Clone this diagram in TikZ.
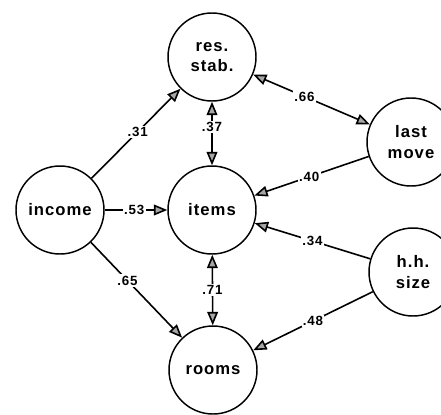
\documentclass[tikz,border=0pt]{standalone}
\usepackage{fontspec}
\setsansfont{Liberation Sans}[LetterSpace=6]
\usepackage{tikz}
\usetikzlibrary{arrows.meta}

\begin{document}
\begin{tikzpicture}[x=0.75pt,y=0.75pt,yscale=-1,xscale=1,
  var/.style={draw, circle, line width=1.1pt, minimum size=88pt*0.75, inner sep=0pt, align=center,
    font=\sffamily\bfseries\fontsize{12.5}{15.5}\selectfont},
  lbl/.style={fill=white, inner sep=1pt, font=\sffamily\bfseries\fontsize{10}{11}\selectfont},
  arr/.style={line width=1.2pt, -{Triangle[length=10pt,width=8pt,fill=gray!70]}},
  darr/.style={line width=1.2pt, {Triangle[length=10pt,width=8pt,fill=gray!70]}-{Triangle[length=10pt,width=8pt,fill=gray!70]}}]
%set diagram frame, 441 x 414
\useasboundingbox (0,0) rectangle (441,414);
\clip (0,0) rectangle (441,414);

%Shape: Circle
\node [var] (res) at (212,57) {res.\\stab.};
%Shape: Circle
\node [var] (income) at (60,210) {income};
%Shape: Circle
\node [var] (items) at (212,210) {items};
%Shape: Circle
\node [var] (rooms) at (213,370) {rooms};
%Shape: Circle
\node [var] (last) at (411,142) {last\\move};
%Shape: Circle
\node [var] (hh) at (413,272) {h.h.\\size};

%Straight Lines
\draw [arr] (income) -- node [lbl, pos=0.52] {.31} (res);
\draw [arr] (income) -- node [lbl, pos=0.47] {.53} (items);
\draw [arr] (income) -- node [lbl, pos=0.4] {.65} (rooms);
\draw [darr] (res) -- node [lbl, pos=0.4] {.37} (items);
\draw [darr] (res) -- node [lbl, pos=0.44] {.66} (last);
\draw [darr] (items) -- node [lbl, pos=0.5] {.71} (rooms);
\draw [arr] (last) -- node [lbl, pos=0.52] {.40} (items);
\draw [arr] (hh) -- node [lbl, pos=0.5] {.34} (items);
\draw [arr] (hh) -- node [lbl, pos=0.5] {.48} (rooms);
\end{tikzpicture}
\end{document}
